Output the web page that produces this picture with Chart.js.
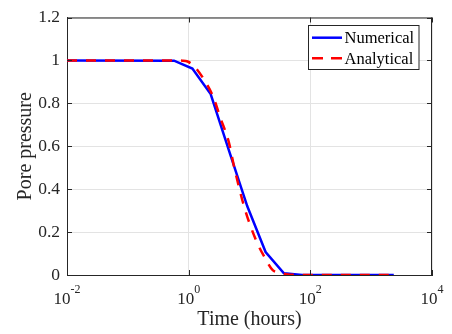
<!DOCTYPE html>
<html>
<head>
<meta charset="utf-8">
<script src="https://cdn.jsdelivr.net/npm/chart.js@4"></script>
<style>
  html, body { margin: 0; padding: 0; background: #fff; }
  #wrap { width: 452px; height: 334px; }
</style>
</head>
<body>
<div id="wrap"><canvas id="chart" width="452" height="334"></canvas></div>
<script>
// data (time in hours, normalised pore pressure)
const numTime = [0.01, 0.575, 1.15, 2.3, 4.6, 9.2, 18.4, 36.8, 73.6, 147, 294, 589, 1178, 2355];
const numPressure = [1, 0.999, 0.962, 0.843, 0.58, 0.32, 0.107, 0.008, 0, 0, 0, 0, 0, 0];

const anaTime = [0.01, 0.5, 0.794, 0.96, 1.25, 1.95, 2.5, 3.35, 4.58, 5.68, 8.28, 12.9, 17.6, 24.1, 31.6, 39.8, 66, 2355];
const anaPressure = [1, 1, 0.999, 0.995, 0.971, 0.893, 0.834, 0.73, 0.618, 0.495, 0.313, 0.16, 0.084, 0.023, 0.01, 0.004, 0, 0];

const xTickValues = [0.01, 1, 100, 10000];
const xTickExponents = ['-2', '0', '2', '4'];
const seriesNames = ['Numerical', 'Analytical'];

const axisColor = '#262626';
const gridColor = '#e3e3e3';
const serif = '"Liberation Serif", "Times New Roman", serif';

function toPoints(xs, ys) {
    return xs.map((x, i) => ({ x: x, y: ys[i] }));
}

const framePlugin = {
    id: 'frame',
    afterDraw(chart) {
        const ctx = chart.ctx;
        const area = chart.chartArea;
        const xs = chart.scales.x;
        const ys = chart.scales.y;
        ctx.save();

        // top and right box lines
        ctx.strokeStyle = axisColor;
        ctx.lineWidth = 1;
        ctx.beginPath();
        ctx.moveTo(area.left, area.top + 0.5);
        ctx.lineTo(area.right, area.top + 0.5);
        ctx.moveTo(area.right - 0.5, area.top);
        ctx.lineTo(area.right - 0.5, area.bottom);
        ctx.stroke();

        // inward ticks on all four sides
        const tl = 5;
        ctx.beginPath();
        xTickValues.forEach(v => {
            const px = Math.round(xs.getPixelForValue(v)) + 0.5;
            ctx.moveTo(px, area.bottom);
            ctx.lineTo(px, area.bottom - tl);
            ctx.moveTo(px, area.top);
            ctx.lineTo(px, area.top + tl);
        });
        ys.ticks.forEach(t => {
            const py = Math.round(ys.getPixelForValue(t.value)) + 0.5;
            ctx.moveTo(area.left, py);
            ctx.lineTo(area.left + tl, py);
            ctx.moveTo(area.right, py);
            ctx.lineTo(area.right - tl, py);
        });
        ctx.stroke();

        // x tick labels as 10 with a raised exponent
        ctx.fillStyle = axisColor;
        ctx.textBaseline = 'alphabetic';
        ctx.textAlign = 'left';
        xTickValues.forEach((v, i) => {
            const px = xs.getPixelForValue(v);
            ctx.font = '17px ' + serif;
            const baseW = ctx.measureText('10').width;
            ctx.font = '12px ' + serif;
            const expW = ctx.measureText(xTickExponents[i]).width;
            const start = px - (baseW + expW) / 2;
            ctx.font = '17px ' + serif;
            ctx.fillText('10', start, 304);
            ctx.font = '12px ' + serif;
            ctx.fillText(xTickExponents[i], start + baseW, 293);
        });

        // legend box
        const bx = 308.5, by = 25.5, bw = 110.5, bh = 44;
        ctx.fillStyle = '#fff';
        ctx.fillRect(bx, by, bw, bh);
        ctx.strokeStyle = axisColor;
        ctx.lineWidth = 1;
        ctx.strokeRect(bx, by, bw, bh);

        const rows = [
            { y: 37.7, color: '#0000ff', dash: [] },
            { y: 58.3, color: '#ff0000', dash: [11, 8] }
        ];
        rows.forEach((r, i) => {
            ctx.beginPath();
            ctx.setLineDash(r.dash);
            ctx.strokeStyle = r.color;
            ctx.lineWidth = 2.5;
            ctx.moveTo(312, r.y);
            ctx.lineTo(342, r.y);
            ctx.stroke();
            ctx.setLineDash([]);
            ctx.fillStyle = '#000';
            ctx.font = '16.5px ' + serif;
            ctx.textBaseline = 'middle';
            ctx.fillText(seriesNames[i], 344.5, r.y + 1);
        });

        ctx.restore();
    }
};

new Chart(document.getElementById('chart'), {
    type: 'line',
    data: {
        datasets: [
            {
                label: seriesNames[0],
                data: toPoints(numTime, numPressure),
                borderColor: '#0000ff',
                borderWidth: 2.5,
                pointRadius: 0,
                tension: 0,
                order: 1
            },
            {
                label: seriesNames[1],
                data: toPoints(anaTime, anaPressure),
                borderColor: '#ff0000',
                borderWidth: 2.5,
                borderDash: [10, 9],
                pointRadius: 0,
                cubicInterpolationMode: 'monotone',
                order: 0
            }
        ]
    },
    options: {
        responsive: false,
        animation: false,
        layout: { padding: { top: 13, right: 20, left: 0, bottom: 0 } },
        plugins: {
            legend: { display: false },
            tooltip: { enabled: false }
        },
        scales: {
            x: {
                type: 'logarithmic',
                min: 0.01,
                max: 10000,
                afterBuildTicks: scale => {
                    scale.ticks = xTickValues.map(v => ({ value: v }));
                },
                afterFit: scale => { scale.height = 59; },
                ticks: { display: false },
                grid: { color: gridColor, lineWidth: 1, drawTicks: false },
                border: { color: axisColor, width: 1 },
                title: {
                    display: true,
                    text: 'Time (hours)',
                    color: axisColor,
                    font: { family: serif, size: 20 },
                    padding: { top: 0, bottom: 2 }
                }
            },
            y: {
                min: 0,
                max: 1.2,
                afterFit: scale => { scale.width = 67; },
                ticks: {
                    stepSize: 0.2,
                    padding: 7,
                    color: axisColor,
                    font: { family: serif, size: 17.5 },
                    callback: v => String(Number(v.toFixed(1)))
                },
                grid: { color: gridColor, lineWidth: 1, drawTicks: false },
                border: { color: axisColor, width: 1 },
                title: {
                    display: true,
                    text: 'Pore pressure',
                    color: axisColor,
                    font: { family: serif, size: 20 },
                    padding: { top: 14, bottom: 0 }
                }
            }
        }
    },
    plugins: [framePlugin]
});
</script>
</body>
</html>
